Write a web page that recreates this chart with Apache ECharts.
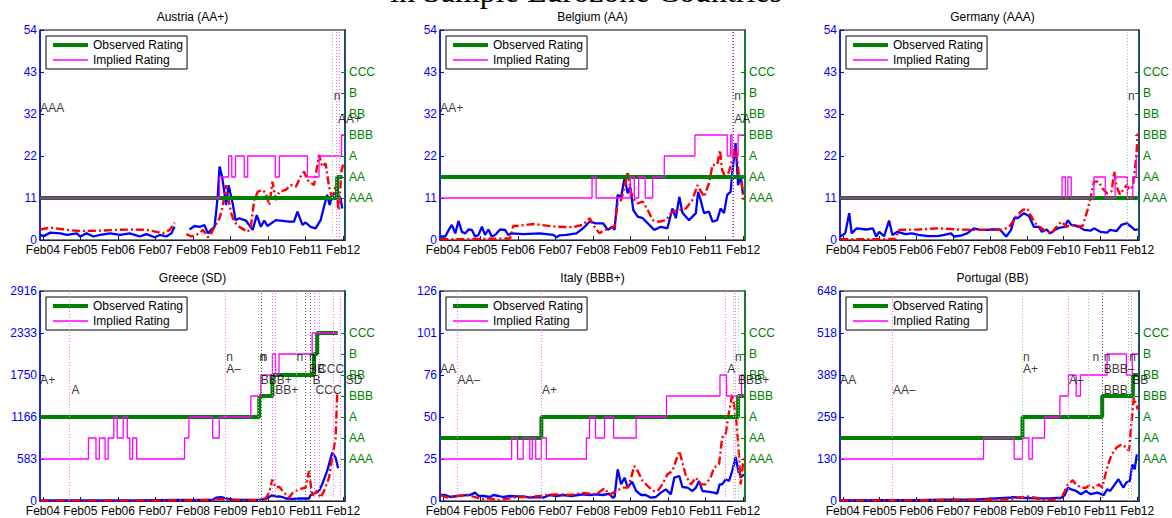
<!DOCTYPE html>
<html>
<head>
<meta charset="utf-8">
<script src="https://cdn.jsdelivr.net/npm/echarts@6/dist/echarts.min.js"></script>
<style>html,body{margin:0;padding:0;background:#fff}#c{width:1172px;height:518px}</style>
</head>
<body>
<div id="c"></div>
<script>
// ---------- tick labels / categories ----------
const xTickLabels = ['Feb04','Feb05','Feb06','Feb07','Feb08','Feb09','Feb10','Feb11','Feb12'];
const xTickMonths = [0,12,24,36,48,60,72,84,96];
const ratingLabels = ['AAA','AA','A','BBB','BB','B','CCC'];
const legendNames = ['Observed Rating','Implied Rating'];
const panelTitles = ['Austria (AA+)','Belgium (AA)','Germany (AAA)','Greece (SD)','Italy (BBB+)','Portugal (BB)'];
const leftAxisMax = [54,54,54,2916,126,648];
const labelRowLevels = [0.686,0.627,0.575,0.527];
const mainTitle = 'in Sample Eurozone Countries';

// ---------- Austria ----------
const austriaSpread = [[-0.8,1.3],[0.3,1.0],[2.4,1.9],[5.6,1.7],[7.7,1.3],[10.9,1.7],[11.9,0.9],[14,1.7],[16.2,0.9],[18.3,1.3],[21.5,1.7],[24.7,1.3],[27.8,1.7],[31,0.9],[33.1,1.5],[35.8,0.7],[37.4,1.3],[39.5,0.9],[41.1,1.7],[42.1,3.4],[43.2,null],[46.9,2.7],[48.5,3.6],[50.1,3.4],[51.7,3.8],[52.8,1.7],[53.8,2.6],[54.9,3.4],[55.9,11.1],[56.5,18.9],[57.3,16.3],[58.1,12],[58.6,9],[59.4,14.1],[60.2,11.1],[60.7,9.4],[61.6,5.1],[62.8,5.6],[64.9,5],[67.1,2.6],[68.4,6.4],[69.7,3.4],[70.8,5],[71.8,3.6],[74.5,5.1],[78.7,4.7],[80.3,4.7],[81.4,7.3],[83,3.9],[84,4.5],[85.6,3.4],[87.2,3],[88.8,5.1],[89.9,8.6],[90.9,11.6],[91.7,9],[92.5,11.6],[93.6,12],[94.4,11.6],[95.2,10.7],[95.7,8.1]];
const austriaModel = [[-0.8,2.7],[2.4,3.2],[7.7,2.6],[11.9,2.3],[18.3,2.4],[23.6,2.6],[28.9,2.7],[33.1,2.6],[36.3,2.1],[38.4,1.7],[40.6,2.6],[42.1,4.5],[43.5,null],[45.9,1.5],[47.5,0.9],[50.1,1.7],[51.2,2.6],[52.8,0.7],[53.8,1.7],[54.9,3.4],[56.5,5.6],[57.5,8.6],[58.6,14.1],[59.4,10.3],[60.2,6.9],[61.2,4.7],[62.8,3.4],[64.4,2.6],[65.5,2.1],[66.5,3.4],[67.6,10.3],[68.7,12.4],[70.2,12.9],[71.3,12],[72.4,9],[73.4,15],[74.5,10.3],[75.6,12.4],[77.7,12.9],[79.3,14.1],[80.9,13.7],[82.4,16.3],[83.5,17.6],[84.6,15.4],[86.7,14.1],[88.3,21.9],[89.3,18.9],[90.4,19.7],[91.5,13.7],[92.5,10.7],[93.6,13.7],[94.6,7.7],[95.5,18],[96.2,19.7]];
const austriaObserved = [[-0.8,'AAA'],[94.1,'AA'],[95.7,'AA']];
const austriaImplied = [[-0.8,'AAA'],[56.5,'AA'],[59.4,'A'],[60.4,'AA'],[61.6,'A'],[64.4,'AA'],[65.5,'A'],[74.3,'AA'],[75.6,'A'],[84.6,'AA'],[88.3,'A'],[95.5,'BBB'],[96.2,'BBB']];
const austriaEvents = [[92.5,'g'],[93.8,'m'],[94.8,'m']];
const austriaLabels = [[-0.8,'AAA',1],[93.0,'n',0],[94.4,'AA+',2]];

// ---------- Belgium ----------
const belgiumSpread = [[-0.8,0.9],[0.8,0.9],[1.9,2.6],[2.9,3.9],[4,1.7],[5,4.9],[6.1,2.1],[7.2,1.7],[8.2,2.7],[9.3,2.6],[10.3,0.9],[11.4,1.3],[12.5,3.4],[13.5,1.3],[14.6,2.7],[15.6,0.9],[16.7,1.3],[18.3,2.7],[19.9,2.6],[20.9,1.3],[22,1.7],[25.7,1.5],[31,1.7],[35.3,1.3],[36.3,0.7],[37.4,1.2],[39.5,1.3],[42.7,1.7],[44.8,3],[46.9,4.7],[49,4.3],[51.2,4.3],[52.8,2.6],[54.1,3.4],[54.9,2.6],[55.9,11.6],[57,11.1],[58.1,15.9],[59.1,12],[59.9,13.7],[60.9,7.7],[62.3,6],[63.9,5.6],[65.5,4.3],[67.6,2.6],[69.7,3.4],[71.8,3],[73.4,8.1],[74.5,5.6],[75.6,11.1],[76.6,7],[78.7,5.1],[80.9,6.9],[81.6,12.4],[82.4,10.3],[83.5,6.9],[85.1,7.3],[86.2,4.7],[87.7,5.1],[88.8,8.1],[89.9,6.9],[90.9,11.6],[92,12.4],[92.5,17.1],[93.6,24.9],[94.4,14.1],[95.2,16.7],[95.9,12]];
const belgiumModel = [[-0.8,0.2],[4.5,0.2],[21.5,0.4],[22.5,3.6],[23.6,3.6],[28.9,4.1],[36.3,3.4],[41.6,3.3],[44.8,3.9],[46.9,5.6],[48.5,3.4],[50.1,1.7],[51.7,2.6],[53.3,3],[54.9,3.4],[55.9,9.4],[57,10.3],[58.1,13.7],[59.1,17.6],[60.2,12],[61.2,10.3],[62.3,9.4],[63.9,9.9],[65.5,7.7],[67.1,5.1],[69.2,4.7],[71.3,5.1],[73.4,7.3],[75.6,7.7],[77.7,8.1],[79.8,10.3],[81.4,14.1],[83.5,11.1],[85.1,14.6],[86.2,19.3],[87.7,19.3],[88.6,23.1],[89.3,18],[90.4,15.9],[91.5,17.6],[92.5,20.6],[93.6,24],[94.6,17.1],[95.5,15],[96.2,10.3]];
const belgiumObserved = [[-0.8,'AA'],[96.2,'AA']];
const belgiumImplied = [[-0.8,'AAA'],[47.7,'AA'],[49,'AAA'],[59.9,'AA'],[61.2,'AAA'],[62.6,'AA'],[64.7,'AAA'],[67.1,'AA'],[70.8,'A'],[80.6,'BBB'],[90.9,'A'],[92,'BBB'],[92.5,'A'],[94.4,'BBB'],[96.2,'BBB']];
const belgiumEvents = [[92.5,'m'],[93.0,'k']];
const belgiumLabels = [[-0.8,'AA+',1],[93.2,'n',0],[93.2,'AA',2]];

// ---------- Germany ----------
const germanySpread = [[-0.8,0.9],[0.8,1.7],[2.1,6.9],[2.9,1.7],[4.5,3],[7.7,2.7],[9.8,3],[10.9,0.9],[11.9,2.1],[13.5,1],[15.1,5],[16.2,1.3],[17.8,2.1],[20.4,1.5],[22.5,1.7],[24.7,1.3],[27.8,1],[31,1],[33.1,1.3],[35.3,1.7],[36.3,0.9],[38.4,1.1],[40.6,1.7],[42.7,3],[44.8,2.6],[46.9,2.6],[49,2.7],[51.2,2.7],[53.3,0.9],[54.9,2.6],[55.9,5.6],[57,5.6],[59.1,6.9],[60.7,6.2],[62.3,3.4],[63.9,3.4],[64.9,2.1],[66.5,2.7],[67.6,1.7],[69.2,2.6],[70.8,3.2],[72.4,3.4],[73.4,5.1],[74.5,3.9],[76.6,3.6],[78.7,2.6],[80.9,2.4],[81.9,3],[84,2.1],[86.2,1.9],[87.2,2.6],[89.3,2.3],[90.9,3.9],[92.5,4.3],[94.1,3.4],[95.2,2.6],[96.2,2.7]];
const germanyModel = [[-0.8,0.2],[11.9,0.2],[17.2,0.3],[18.3,2.6],[24.7,2.7],[31,3],[37.4,2.7],[43.7,2.6],[48,2.6],[52.2,2.6],[54.3,3.4],[56.5,6],[58.6,7.7],[60.2,8.1],[61.2,6.4],[62.8,4.3],[64.9,3],[66.5,2.1],[68.1,1.7],[69.7,3.4],[71.3,4.7],[72.9,3.4],[74.5,3.9],[76.6,3.4],[78.2,3.6],[79.8,7.7],[80.9,11.1],[81.9,15],[83.5,15],[84.6,13.3],[86.2,12],[87.7,12.6],[88.5,17.6],[89.3,13.7],[90.4,11.7],[91.5,13],[92.5,14.1],[93.6,12.9],[94.6,13.7],[95.7,21.4],[96.2,27.4]];
const germanyObserved = [[-0.8,'AAA'],[96.2,'AAA']];
const germanyImplied = [[-0.8,'AAA'],[71.5,'AA'],[72.6,'AAA'],[73.4,'AA'],[74.5,'AAA'],[81.9,'AA'],[85.6,'AAA'],[88.8,'AA'],[92.8,'AAA'],[94.6,'AA'],[95.7,'A'],[96.2,'A']];
const germanyEvents = [[92.8,'g']];
const germanyLabels = [[93.0,'n',0]];

// ---------- Greece ----------
const greeceSpread = [[-0.8,10],[29.7,10],[43.7,15],[54.3,15],[55.4,46],[57,55],[58.6,35],[60.7,20],[69.2,15],[71.3,30],[72.9,70],[73.4,83],[74.5,60],[75.6,65],[76.6,55],[77.7,35],[79.8,30],[81.9,35],[85.1,35],[85.6,83],[86.7,100],[88.3,140],[89.3,231],[90.9,417],[92.5,671],[93.6,602],[94.4,454]];
const greeceModel = [[-0.8,5],[39.5,5],[54.3,15],[56.5,30],[58.6,20],[69.2,10],[71.3,40],[72.4,120],[73.4,300],[74.5,185],[75.6,200],[76.6,140],[77.7,90],[78.7,46],[79.8,110],[81.9,162],[84,185],[85.1,417],[86.1,70],[87.7,140],[88.8,46],[89.9,140],[91.5,324],[92.5,602],[93.6,880],[94.1,1481]];
const greeceObserved = [[-0.8,'A'],[69.2,'BBB'],[73.4,'BB'],[86.7,'B'],[87.7,'CCC'],[94.3,'CCC']];
const greeceImplied = [[-0.8,'AAA'],[14.6,'AA'],[17,'AAA'],[18.1,'AA'],[19.9,'AAA'],[20.9,'AA'],[22.7,'A'],[23.8,'AA'],[25.7,'A'],[27,'AA'],[27.8,'AAA'],[28.7,'AA'],[30,'AAA'],[45.3,'AA'],[46.7,'A'],[54.3,'AA'],[56.4,'A'],[66.5,'BBB'],[69.7,'BB'],[73.4,'B'],[74.4,'BB'],[75.5,'B'],[86.1,'CCC'],[94.3,'CCC']];
const greeceEvents = [[8.4,'m'],[58.3,'m'],[69,'g'],[69.7,'k'],[73.4,'m'],[74.3,'m'],[80.9,'g'],[84,'k'],[85.4,'k'],[86.7,'m'],[88.3,'m'],[92.8,'m'],[95.2,'m']];
const greeceLabels = [[-0.8,'A+',2],[9.2,'A',3],[58.6,'n',0],[58.6,'A–',1],[69.2,'n',0],[69.7,'n',0],[69.7,'BBB+',2],[74.3,'BB+',3],[81.1,'n',0],[85.1,'n',0],[85.1,'BB',1],[88.0,'CCC',1],[86.2,'B',2],[87.2,'CCC',3],[96.8,'SD',2]];

// ---------- Italy ----------
const italySpread = [[-0.8,3.6],[0.8,3.6],[2.4,2.4],[4.5,3],[6.6,3.4],[8.7,3.6],[10.3,5],[11.4,3],[13,3],[15.1,2.4],[16.2,3.6],[17.8,3],[19.3,2.4],[21.5,3],[23.6,2.8],[25.7,2.8],[27.8,2],[30,2.4],[32.1,2],[34.2,3.6],[36.3,3],[38.4,3.6],[41.1,3],[43.2,3.6],[44.8,4],[46.9,3.6],[49,4],[51.2,3.6],[53.3,4.4],[54.3,2],[54.9,2.4],[55.9,19],[57,10],[58.1,14],[59.1,8],[60.5,11.6],[61.8,6],[63.4,3.6],[64.9,3.6],[66.5,2],[68.1,2.4],[69.7,5],[71.3,7],[72.9,4],[74,14],[75.6,15],[76.6,8.4],[78.2,8],[79.8,6],[80.9,8],[81.9,12],[83,6],[84.6,5.6],[86.7,5],[87.7,4.4],[88.5,10],[89.3,10],[90.4,13],[91.5,12],[92.5,18],[93.6,26.4],[94.6,17],[95.5,14.4],[96.2,16]];
const italyModel = [[-0.8,3.6],[1.4,2],[4.5,3],[7.7,3.6],[10.9,2],[13,1],[15.1,1.6],[17.2,0.4],[19.3,1],[21.5,1.6],[23.6,2.4],[27.8,2.4],[31,3],[33.1,3.6],[36.3,4],[40.6,3.6],[44.8,4.8],[49,4],[51.7,7.6],[53.3,3.6],[55.4,6],[57.5,8],[59.1,8],[60.2,14],[61.2,21],[62.3,18],[63.9,12],[65.5,9],[67.1,6],[68.7,6],[70.2,10],[71.8,16],[73.4,18],[75.6,30],[76.6,23],[77.7,15],[79.3,10],[80.9,14],[82.5,10],[84,10],[85.6,14],[86.7,20],[88.3,22],[89.3,38],[90.4,40],[91.2,50],[92.5,64],[93.6,52],[94.4,36],[95.2,10],[96.2,26]];
const italyObserved = [[-0.8,'AA'],[31.5,'A'],[94.4,'BBB'],[96.2,'BBB']];
const italyImplied = [[-0.8,'AAA'],[22,'AA'],[23.9,'AAA'],[25.7,'AA'],[27.8,'AAA'],[28.6,'AA'],[29.7,'AAA'],[31.5,'AA'],[33.1,'AAA'],[45.9,'AA'],[46.9,'A'],[48.8,'AA'],[51.7,'A'],[54.6,'AA'],[61.8,'A'],[71.5,'BBB'],[88.6,'BB'],[90.7,'BBB'],[95.5,'BB'],[96.2,'BB']];
const italyEvents = [[4.5,'m'],[31.5,'m'],[90.4,'m'],[93,'g'],[93.6,'m'],[94.6,'g']];
const italyLabels = [[-0.8,'AA',1],[4.7,'AA–',2],[31.7,'A+',3],[90.9,'A',1],[93.4,'n',0],[94.4,'BBB+',2]];

// ---------- Portugal ----------
const portugalSpread = [[-0.8,2],[11.9,3],[22.5,3],[33.1,4],[43.7,5],[54.3,10],[55.4,12],[58.6,10],[62.8,8],[67.1,8],[71.3,10],[72.4,18],[73.4,41],[74.5,36],[76.1,31],[77.7,21],[79.3,31],[80.9,21],[83,26],[85.1,18],[86.2,36],[87.2,31],[88.3,46],[89.9,67],[91.5,41],[92.5,57],[93.6,62],[94.4,113],[95.2,98],[95.9,144]];
const portugalModel = [[-0.8,2],[22.5,2],[43.7,4],[54.3,5],[58.6,12],[60.7,14],[62.8,10],[64.9,4],[69.2,4],[71.3,10],[72.4,31],[73.4,51],[75,64],[76.1,51],[77.7,41],[79.3,41],[80.3,48],[81.9,41],[83.5,51],[84.6,41],[86.2,103],[87.7,144],[89.3,165],[90.9,175],[92.5,165],[93.3,155],[94.1,237],[94.9,319],[95.7,298],[96.2,283]];
const portugalObserved = [[-0.8,'AA'],[58.6,'A'],[84.6,'BBB'],[94.6,'BB'],[96.2,'BB']];
const portugalImplied = [[-0.8,'AAA'],[45.9,'AA'],[55.9,'AAA'],[58.6,'AA'],[60.7,'AAA'],[61.8,'AA'],[65.8,'A'],[70.8,'BBB'],[73.6,'BB'],[76.1,'BBB'],[77.5,'BB'],[86.2,'B'],[92.5,'BB'],[94.4,'B'],[96.2,'B']];
const portugalEvents = [[16.2,'m'],[58.6,'g'],[73.6,'m'],[80.2,'g'],[84.6,'k'],[93,'g'],[94.1,'m']];
const portugalLabels = [[-0.8,'AA',2],[16.4,'AA–',3],[58.8,'n',0],[58.8,'A+',1],[73.8,'A–',2],[81.4,'n',0],[85.1,'n',0],[85.1,'BBB–',1],[85.1,'BBB',3],[93.4,'n',0],[94.4,'BB',2]];

// ---------- build ----------
const FONT = 'Liberation Sans, Arial, Helvetica, sans-serif';
const BLUE = '#0000ff', RED = '#ff0000', GREEN = '#008000', MAGENTA = '#ff00ff';
const eventColors = {m:'#ff66ff', g:'#88dd88', k:'#704070'};
const panels = [
  {spread:austriaSpread, model:austriaModel, observed:austriaObserved, implied:austriaImplied, events:austriaEvents, labels:austriaLabels, spine:'#1f4f6f'},
  {spread:belgiumSpread, model:belgiumModel, observed:belgiumObserved, implied:belgiumImplied, events:belgiumEvents, labels:belgiumLabels, spine:'#1a7a2a'},
  {spread:germanySpread, model:germanyModel, observed:germanyObserved, implied:germanyImplied, events:germanyEvents, labels:germanyLabels, spine:'#1f4f6f'},
  {spread:greeceSpread, model:greeceModel, observed:greeceObserved, implied:greeceImplied, events:greeceEvents, labels:greeceLabels, spine:'#1f4f6f'},
  {spread:italySpread, model:italyModel, observed:italyObserved, implied:italyImplied, events:italyEvents, labels:italyLabels, spine:'#1a7a2a'},
  {spread:portugalSpread, model:portugalModel, observed:portugalObserved, implied:portugalImplied, events:portugalEvents, labels:portugalLabels, spine:'#1f4f6f'}
];
const gridLefts = [40, 440, 840], gridTops = [30, 291], GW = 305, GH = 210;
const ratingValue = r => ratingLabels.indexOf(r) + 2;
const ratingTicks = ratingLabels.map((r, i) => i + 2);

const option = {
  animation: false, backgroundColor: '#fff', textStyle: {fontFamily: FONT},
  grid: [], xAxis: [], yAxis: [], series: [], legend: [],
  graphic: [{type:'text', x:586, y:-9, silent:true,
    style:{text:mainTitle, fill:'#000', fontSize:32, fontFamily:'Liberation Serif, Times New Roman, serif', align:'center', verticalAlign:'middle'}}]
};

panels.forEach((p, i) => {
  const left = gridLefts[i % 3], top = gridTops[Math.floor(i / 3)];
  const M = leftAxisMax[i];
  const leftTicks = [0,1,2,3,4,5].map(k => k * M / 5);
  option.grid.push({left, top, width:GW, height:GH, show:true, borderColor:'#000', borderWidth:1, backgroundColor:'transparent'});
  option.xAxis.push({gridIndex:i, type:'value', min:-0.9, max:96.6,
    axisLine:{show:true, onZero:false, lineStyle:{color:'#1c1c3a', width:1}},
    axisTick:{show:true, inside:true, length:4, customValues:xTickMonths, lineStyle:{color:'#1c1c3a'}},
    axisLabel:{customValues:xTickMonths, formatter:v => xTickLabels[xTickMonths.indexOf(Math.round(v))] || '', color:'#000', fontSize:12, margin:4, fontFamily:FONT},
    splitLine:{show:false}});
  option.yAxis.push({gridIndex:i, type:'value', position:'left', min:0, max:M,
    axisLine:{show:true, onZero:false, lineStyle:{color:BLUE, width:1.5}},
    axisTick:{show:true, inside:true, length:4, customValues:leftTicks, lineStyle:{color:BLUE}},
    axisLabel:{customValues:leftTicks, formatter:v => String(Math.round(v)), color:BLUE, fontSize:12, margin:3, fontFamily:FONT},
    splitLine:{show:false}});
  option.yAxis.push({gridIndex:i, type:'value', position:'right', min:0, max:10,
    axisLine:{show:true, onZero:false, lineStyle:{color:p.spine, width:2}},
    axisTick:{show:true, inside:true, length:4, customValues:ratingTicks, lineStyle:{color:GREEN}},
    axisLabel:{customValues:ratingTicks, formatter:v => ratingLabels[Math.round(v) - 2] || '', color:GREEN, fontSize:12, margin:4, fontFamily:FONT},
    splitLine:{show:false}});
  option.series.push({type:'line', name:'CDS Spread', xAxisIndex:i, yAxisIndex:2*i, data:p.spread, symbol:'none', connectNulls:false, color:BLUE, lineStyle:{color:BLUE, width:2.3}, silent:true, z:2});
  option.series.push({type:'line', name:'Model Spread', xAxisIndex:i, yAxisIndex:2*i, data:p.model, symbol:'none', connectNulls:false, color:RED, lineStyle:{color:RED, width:2.4, type:[8,3,2,3]}, silent:true, z:2});
  option.series.push({type:'line', name:legendNames[0], xAxisIndex:i, yAxisIndex:2*i+1, step:'end', data:p.observed.map(d => [d[0], ratingValue(d[1])]), symbol:'none', color:GREEN, lineStyle:{color:GREEN, width:4}, silent:true, z:3});
  option.series.push({type:'line', name:legendNames[1], xAxisIndex:i, yAxisIndex:2*i+1, step:'end', data:p.implied.map(d => [d[0], ratingValue(d[1])]), symbol:'none', color:MAGENTA, lineStyle:{color:MAGENTA, width:1.3}, silent:true, z:4});
  option.series.push({type:'scatter', name:'Rating events', xAxisIndex:i, yAxisIndex:2*i, clip:false, symbolSize:0, silent:true, z:5,
    data:p.labels.map(l => ({name:l[1], value:[l[0], labelRowLevels[l[2]] * M]})),
    label:{show:true, position:'right', distance:0, formatter:'{b}', color:'#000', fontSize:12, fontFamily:FONT, textBorderWidth:0},
    markLine:{silent:true, symbol:['none','none'], label:{show:false}, animation:false,
      lineStyle:{type:[1,2], width:1},
      data:p.events.map(e => ({xAxis:e[0], lineStyle:{color:eventColors[e[1]], type:[1,2], width:1}}))}});
  option.legend.push({left:left+6, top:top+6, orient:'vertical', padding:[3,4,3,7], itemGap:3, itemWidth:35, itemHeight:12,
    backgroundColor:'#fff', borderColor:'#000', borderWidth:1, selectedMode:false,
    textStyle:{fontSize:12, color:'#000', fontFamily:FONT},
    data:[{name:legendNames[0], icon:'path://M0,0H35V4H0Z', itemStyle:{color:GREEN, borderWidth:0}},
          {name:legendNames[1], icon:'path://M0,0H35V1.3H0Z', itemStyle:{color:MAGENTA, borderWidth:0}}]});
  option.graphic.push({type:'text', x:left + GW/2, y:top - 13, silent:true,
    style:{text:panelTitles[i], fill:'#000', fontSize:12, fontFamily:FONT, align:'center', verticalAlign:'middle'}});
});

const chart = echarts.init(document.getElementById('c'), null, {renderer:'svg', width:1172, height:518});
chart.setOption(option);
</script>
</body>
</html>
